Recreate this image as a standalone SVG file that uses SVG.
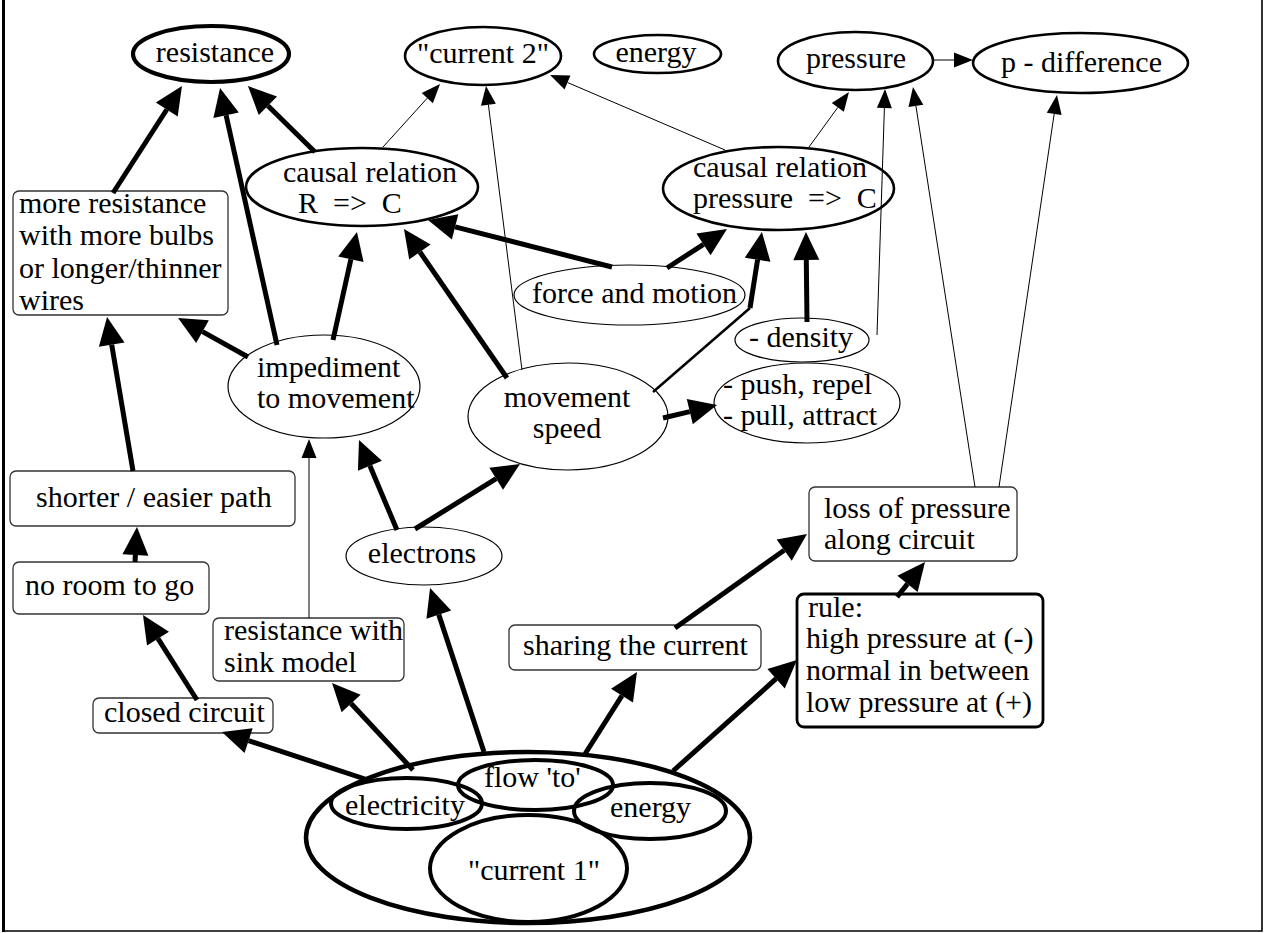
<svg xmlns="http://www.w3.org/2000/svg" width="1264" height="933" viewBox="0 0 1264 933">
<defs>
<style>
text{font-family:"Liberation Serif","Times New Roman",serif;font-size:30px;fill:#000}
.m{text-anchor:middle}
.e1{fill:#fff;stroke:#000;stroke-width:1.2}
.e2{fill:#fff;stroke:#000;stroke-width:2.6}
.e4{fill:#fff;stroke:#000;stroke-width:4.2}
.g4{fill:none;stroke:#000;stroke-width:4}
.box{fill:#fff;stroke:#333;stroke-width:1.3}
.box3{fill:#fff;stroke:#000;stroke-width:2.8}
.tk{fill:none;stroke:#000;stroke-width:5;marker-end:url(#ah)}
.tn{fill:none;stroke:#000;stroke-width:1;marker-end:url(#as)}
</style>
<marker id="ah" markerUnits="userSpaceOnUse" markerWidth="28" markerHeight="26" refX="0" refY="13" orient="auto" overflow="visible"><path d="M0,0 L28,13 L0,26 z" fill="#000"/></marker>
<marker id="as" markerUnits="userSpaceOnUse" markerWidth="19" markerHeight="15" refX="0" refY="7.5" orient="auto" overflow="visible"><path d="M0,0 L19,7.5 L0,15 z" fill="#000"/></marker>
</defs>
<rect width="1264" height="933" fill="#fff"/>
<g id="frame">
<line x1="3.5" y1="0" x2="3.5" y2="932" stroke="#000" stroke-width="3"/>
<path d="M2,931 H1262 V0" fill="none" stroke="#000" stroke-width="1.6"/>
</g>
<g id="resistance"><ellipse class="e4" cx="211" cy="54" rx="78" ry="28"/><text class="m" x="215" y="62">resistance</text></g>
<g id="current2"><ellipse class="e2" cx="483" cy="56" rx="78" ry="29"/><text class="m" x="483" y="63">"current 2"</text></g>
<g id="energy-top"><ellipse class="e2" cx="657.5" cy="54" rx="63.5" ry="19"/><text class="m" x="656" y="62">energy</text></g>
<g id="pressure"><ellipse class="e2" cx="855.5" cy="61" rx="77.5" ry="29"/><text class="m" x="856" y="68">pressure</text></g>
<g id="p-difference"><ellipse class="e2" cx="1080.5" cy="63" rx="107.5" ry="30"/><text class="m" x="1081.5" y="72">p - difference</text></g>
<g id="causal-r"><ellipse class="e2" cx="362" cy="187" rx="116" ry="39"/><text x="283" y="182">causal relation</text><text x="298" y="213">R&#160;&#160;=&gt;&#160;&#160;C</text></g>
<g id="causal-p"><ellipse class="e2" cx="778.5" cy="188.5" rx="115.5" ry="41.5"/><text x="693" y="177">causal relation</text><text x="693" y="208">pressure&#160;&#160;=&gt;&#160;&#160;C</text></g>
<g id="more-resistance"><rect class="box" x="13" y="191" width="215" height="124" rx="6"/><text x="19" y="213">more resistance</text><text x="19" y="245">with more bulbs</text><text x="19" y="278">or longer/thinner</text><text x="19" y="310">wires</text></g>
<g id="force-motion"><ellipse class="e1" cx="629.5" cy="295" rx="115.5" ry="30"/><text class="m" x="634.5" y="303">force and motion</text></g>
<g id="density"><ellipse class="e1" cx="802" cy="340" rx="67" ry="22"/><text class="m" x="801" y="347">- density</text></g>
<g id="push-pull"><ellipse class="e1" cx="807" cy="403" rx="93" ry="40"/><text x="723" y="394">- push, repel</text><text x="723" y="425">- pull, attract</text></g>
<g id="impediment"><ellipse class="e1" cx="324" cy="386.5" rx="96" ry="51.5"/><text x="257" y="377">impediment</text><text x="257" y="408">to movement</text></g>
<g id="movement-speed"><ellipse class="e1" cx="568" cy="416.5" rx="100" ry="53.5"/><text class="m" x="567" y="407">movement</text><text class="m" x="567" y="438">speed</text></g>
<g id="electrons"><ellipse class="e1" cx="424" cy="556" rx="78" ry="29"/><text class="m" x="422" y="563">electrons</text></g>
<g id="shorter-path"><rect class="box" x="10" y="471" width="285" height="55" rx="6"/><text x="36" y="507">shorter / easier path</text></g>
<g id="no-room"><rect class="box" x="13" y="562" width="196" height="52" rx="6"/><text x="25" y="595">no room to go</text></g>
<g id="sink-model"><rect class="box" x="213" y="618" width="191" height="63" rx="6"/><text x="224" y="640">resistance with</text><text x="224" y="672">sink model</text></g>
<g id="closed-circuit"><rect class="box" x="93" y="698" width="180" height="35" rx="6"/><text x="104" y="722">closed circuit</text></g>
<g id="sharing"><rect class="box" x="509" y="625" width="252" height="45" rx="6"/><text x="523" y="655">sharing the current</text></g>
<g id="loss-pressure"><rect class="box" x="809" y="487" width="208" height="74" rx="6"/><text x="824" y="518">loss of pressure</text><text x="824" y="549">along circuit</text></g>
<g id="rule"><rect class="box3" x="797" y="594" width="246" height="133" rx="7"/><text x="808" y="617">rule:</text><text x="806" y="648">high pressure at (-)</text><text x="806" y="680">normal in between</text><text x="806" y="712">low pressure at (+)</text></g>
<g id="current1-group">
<ellipse class="e4" cx="528" cy="837.5" rx="222" ry="85.5" style="stroke-width:4.5"/>
<ellipse class="g4" cx="528.5" cy="868.5" rx="98.5" ry="53.5"/>
<ellipse class="g4" cx="406.5" cy="803.5" rx="75.5" ry="25.5"/>
<ellipse class="g4" cx="535.5" cy="785" rx="77.5" ry="25"/>
<ellipse class="g4" cx="650" cy="811" rx="76" ry="28"/>
<text x="345" y="815">electricity</text>
<text x="484" y="787">flow 'to'</text>
<text x="610" y="817">energy</text>
<text x="468" y="880">"current 1"</text>
</g>
<g id="connectors">
<path class="tk" d="M113,193 L166.8,109.5"/>
<path class="tk" d="M277,345 L226.1,115.3"/>
<path class="tk" d="M315,152 L267.9,105.7"/>
<path class="tk" d="M333,340 L350.9,259.3"/>
<path class="tk" d="M248,357 L202.5,331.6"/>
<path class="tk" d="M133,471 L111.7,344.6"/>
<path class="tk" d="M135,562 L135.4,554.9"/>
<path class="tk" d="M197,700 L158,638.6"/>
<path class="tk" d="M397,530 L369.9,465.8"/>
<path class="tk" d="M415,529 L496.2,478.7"/>
<path class="tk" d="M507,378 L419.9,252"/>
<path class="tk" d="M612,267 L455.1,226.9"/>
<path class="tk" d="M667,268 L703.5,244.3"/>
<path d="M653,392 L750,308" fill="none" stroke="#000" stroke-width="2.5"/>
<path class="tk" d="M750,308 L757.6,259.7"/>
<path class="tk" d="M807,322 L806.3,260"/>
<path class="tk" d="M663,418 L689.8,411.6"/>
<path class="tk" d="M675,628 L784.2,550.2"/>
<path class="tk" d="M897,597 L907.5,583.9"/>
<path class="tk" d="M368,780 L248.6,740.7"/>
<path class="tk" d="M413,770 L351.1,703.5"/>
<path class="tk" d="M484,752 L438.8,614.6"/>
<path class="tk" d="M585,754 L622,695.6"/>
<path class="tk" d="M673,771 L776.1,678.7"/>
<path class="tn" d="M383,147 L427.3,98.1"/>
<path class="tn" d="M522,370 L488.4,104.8"/>
<path class="tn" d="M725,150 L567.5,82.5"/>
<path class="tn" d="M809,147 L837.8,107.4"/>
<path class="tn" d="M877,335 L884.4,108"/>
<path class="tn" d="M975,487 L915.9,105.8"/>
<path class="tn" d="M999,487 L1054.2,113.8"/>
<path class="tn" d="M309,618 L309,458"/>
<path class="tn" d="M934,60 L954,60"/>
</g>
</svg>
